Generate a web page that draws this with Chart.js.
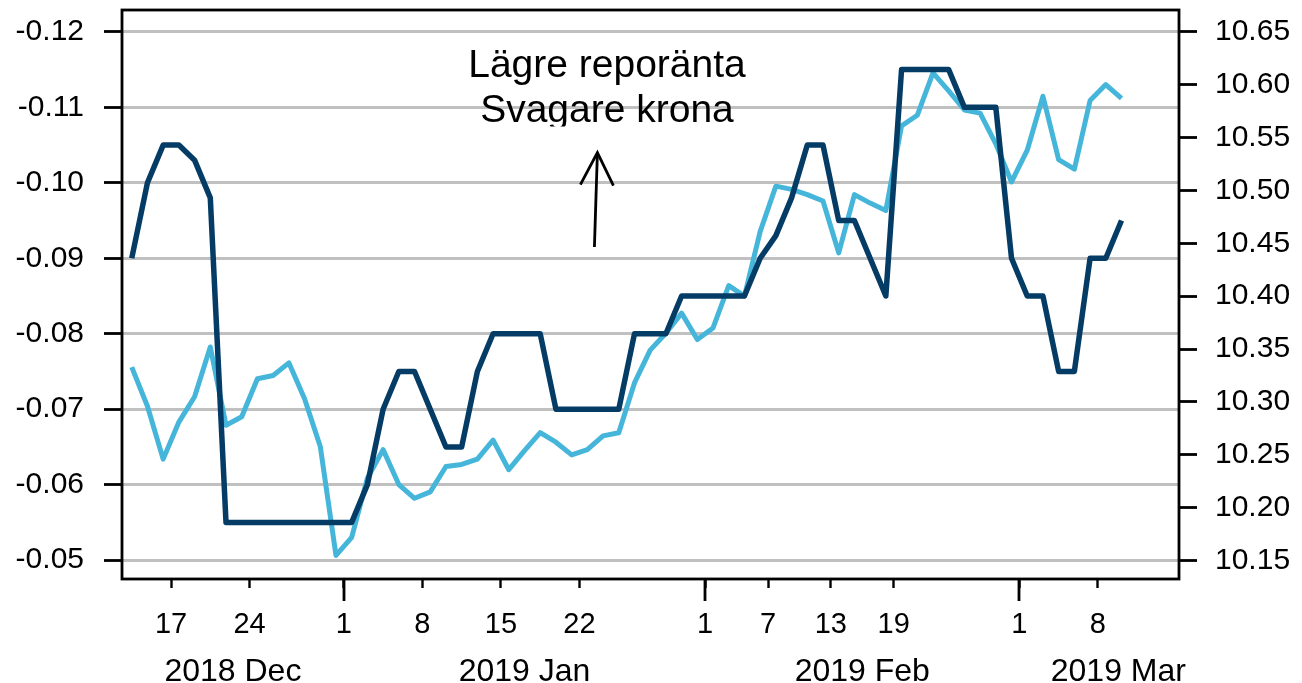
<!DOCTYPE html>
<html>
<head>
<meta charset="utf-8">
<script src="https://cdn.jsdelivr.net/npm/chart.js@4.4.1/dist/chart.umd.min.js"></script>
<style>
html,body{margin:0;padding:0;background:#fff;}
#wrap{width:1302px;height:683px;position:relative;}
</style>
</head>
<body>
<div id="wrap"><canvas id="c" width="1302" height="683"></canvas></div>
<script>
// Business days (x axis categories)
const dates = [
 '2018-12-13','2018-12-14','2018-12-17','2018-12-18','2018-12-19','2018-12-20','2018-12-21',
 '2018-12-24','2018-12-25','2018-12-26','2018-12-27','2018-12-28','2018-12-31',
 '2019-01-01','2019-01-02','2019-01-03','2019-01-04','2019-01-07','2019-01-08','2019-01-09',
 '2019-01-10','2019-01-11','2019-01-14','2019-01-15','2019-01-16','2019-01-17','2019-01-18',
 '2019-01-21','2019-01-22','2019-01-23','2019-01-24','2019-01-25','2019-01-28','2019-01-29',
 '2019-01-30','2019-01-31',
 '2019-02-01','2019-02-04','2019-02-05','2019-02-06','2019-02-07','2019-02-08','2019-02-11',
 '2019-02-12','2019-02-13','2019-02-14','2019-02-15','2019-02-18','2019-02-19','2019-02-20',
 '2019-02-21','2019-02-22','2019-02-25','2019-02-26','2019-02-27','2019-02-28',
 '2019-03-01','2019-03-04','2019-03-05','2019-03-06','2019-03-07','2019-03-08','2019-03-11',
 '2019-03-12'
];

// Dark line: expected policy rate (left axis, inverted)
const repoRate = [
 -0.090,-0.100,-0.105,-0.105,-0.103,-0.098,-0.055,
 -0.055,-0.055,-0.055,-0.055,-0.055,-0.055,
 -0.055,-0.055,-0.060,-0.070,-0.075,-0.075,-0.070,
 -0.065,-0.065,-0.075,-0.080,-0.080,-0.080,-0.080,
 -0.070,-0.070,-0.070,-0.070,-0.070,-0.080,-0.080,
 -0.080,-0.085,
 -0.085,-0.085,-0.085,-0.085,-0.090,-0.093,-0.098,
 -0.105,-0.105,-0.095,-0.095,-0.090,-0.085,-0.115,
 -0.115,-0.115,-0.115,-0.110,-0.110,-0.110,
 -0.090,-0.085,-0.085,-0.075,-0.075,-0.090,-0.090,
 -0.095
];

// Light line: EUR/SEK (right axis)
const eurSek = [
 10.333,10.296,10.246,10.281,10.305,10.352,10.278,
 10.286,10.322,10.325,10.337,10.303,10.258,
 10.155,10.172,10.228,10.255,10.222,10.209,10.215,
 10.239,10.241,10.246,10.264,10.236,10.254,10.271,
 10.262,10.250,10.255,10.268,10.271,10.318,10.349,
 10.365,10.384,
 10.359,10.370,10.410,10.400,10.461,10.504,10.501,
 10.496,10.490,10.441,10.496,10.488,10.481,10.561,
 10.571,10.611,10.594,10.576,10.573,10.544,
 10.508,10.538,10.589,10.529,10.520,10.585,10.600,
 10.587
];

// Tick labels
const tickDates = ['2018-12-17','2018-12-24','2019-01-01','2019-01-08','2019-01-15','2019-01-22',
                   '2019-02-01','2019-02-07','2019-02-13','2019-02-19','2019-03-01','2019-03-08'];
const dayLabels = ['17','24','1','8','15','22','1','7','13','19','1','8'];
const monthLabels = ['2018 Dec','2019 Jan','2019 Feb','2019 Mar'];
const leftTicks = [-0.12,-0.11,-0.10,-0.09,-0.08,-0.07,-0.06,-0.05];
const rightTicks = [10.15,10.20,10.25,10.30,10.35,10.40,10.45,10.50,10.55,10.60,10.65];
const annotationLines = ['Lägre reporänta','Svagare krona'];

const FONT = 'Liberation Sans, Arial, Helvetica, sans-serif';
const tickPos = tickDates.map(d => dates.indexOf(d) + 0.5);
const xMin = -0.62, xMax = 66.66;

const repoPts = repoRate.map((v,i)=>({x:i,y:v}));
const sekPts = eurSek.map((v,i)=>({x:i,y:v}));

const decor = {
  id:'decor',
  afterDraw(chart){
    const ctx = chart.ctx, ca = chart.chartArea;
    const xs = chart.scales.x, yl = chart.scales.yL;
    ctx.save();
    // frame
    ctx.strokeStyle = '#000'; ctx.lineWidth = 2.8;
    ctx.strokeRect(ca.left, ca.top, ca.right-ca.left, ca.bottom-ca.top);
    // long ticks at month starts
    ctx.lineWidth = 2.8;
    tickPos.forEach((p,i)=>{
      if(dayLabels[i]==='1'){
        const px = Math.round(xs.getPixelForValue(p));
        ctx.beginPath(); ctx.moveTo(px, ca.bottom); ctx.lineTo(px, ca.bottom+22); ctx.stroke();
      }
    });
    // month-year labels
    const bounds = [xMin].concat(tickPos.filter((p,i)=>dayLabels[i]==='1'));
    ctx.fillStyle = '#000'; ctx.font = '32px ' + FONT;
    ctx.textAlign = 'center'; ctx.textBaseline = 'alphabetic';
    monthLabels.forEach((m,k)=>{
      const a = bounds[k];
      const b = k+1 < bounds.length ? bounds[k+1] : a + 12.6;
      ctx.fillText(m, xs.getPixelForValue((a+b)/2), 681);
    });
    // annotation text
    const cx = xs.getPixelForValue(30.25);
    ctx.font = '39px ' + FONT;
    ctx.fillText(annotationLines[0], cx, yl.getPixelForValue(-0.1140));
    ctx.save();
    const b2 = yl.getPixelForValue(-0.1080);
    ctx.beginPath(); ctx.rect(0, 0, chart.width, b2 + 4); ctx.clip();
    ctx.fillText(annotationLines[1], cx, b2);
    ctx.restore();
    // arrow
    const x0 = xs.getPixelForValue(29.45), y0 = yl.getPixelForValue(-0.0915);
    const x1 = xs.getPixelForValue(29.64), y1 = yl.getPixelForValue(-0.1040);
    ctx.strokeStyle = '#000'; ctx.lineWidth = 2.8; ctx.lineCap = 'butt';
    ctx.beginPath(); ctx.moveTo(x0,y0); ctx.lineTo(x1,y1); ctx.stroke();
    ctx.beginPath(); ctx.moveTo(x1-17,y1+32); ctx.lineTo(x1,y1); ctx.lineTo(x1+16,y1+33); ctx.stroke();
    ctx.restore();
  }
};

function noPad(s){ s.paddingTop = 0; s.paddingBottom = 0; }

new Chart(document.getElementById('c'), {
  type:'line',
  data:{
    datasets:[
      {label:'Förväntad reporänta', data:repoPts, yAxisID:'yL', borderColor:'#053c66', borderWidth:5.5,
       pointRadius:0, tension:0, borderJoinStyle:'round', fill:false},
      {label:'EUR/SEK', data:sekPts, yAxisID:'yR', borderColor:'#45b6da', borderWidth:5,
       pointRadius:0, tension:0, borderJoinStyle:'round', fill:false}
    ]
  },
  options:{
    responsive:false, animation:false,
    layout:{padding:{top:10,left:0,right:0,bottom:0}},
    plugins:{legend:{display:false}, tooltip:{enabled:false}},
    scales:{
      x:{
        type:'linear', min:xMin, max:xMax,
        afterBuildTicks:s=>{ s.ticks = tickPos.map(v=>({value:v})); },
        ticks:{callback:(v,i)=>dayLabels[i], color:'#000', font:{family:FONT,size:29}, padding:20,
               autoSkip:false, maxRotation:0},
        grid:{display:true, drawOnChartArea:false, drawTicks:true, tickLength:9, tickColor:'#000', tickWidth:2.4},
        border:{display:false},
        afterFit:s=>{ s.height = 104; s.paddingLeft = 0; s.paddingRight = 0; }
      },
      yL:{
        type:'linear', position:'left', reverse:true, min:-0.1229, max:-0.0475,
        afterBuildTicks:s=>{ s.ticks = leftTicks.map(v=>({value:v})); },
        ticks:{callback:v=>v.toFixed(2), color:'#000', font:{family:FONT,size:30}, padding:20},
        grid:{color:'#c0c0c0', lineWidth:3, tickLength:18, tickColor:'#000', tickWidth:2.8},
        border:{display:false},
        afterFit:s=>{ s.width = 122; noPad(s); }
      },
      yR:{
        type:'linear', position:'right', min:10.1327, max:10.6705,
        afterBuildTicks:s=>{ s.ticks = rightTicks.map(v=>({value:v})); },
        ticks:{callback:v=>v.toFixed(2), color:'#000', font:{family:FONT,size:30}, padding:18},
        grid:{drawOnChartArea:false, tickLength:18, tickColor:'#000', tickWidth:2.8},
        border:{display:false},
        afterFit:s=>{ s.width = 123; noPad(s); }
      }
    }
  },
  plugins:[decor]
});
</script>
</body>
</html>
